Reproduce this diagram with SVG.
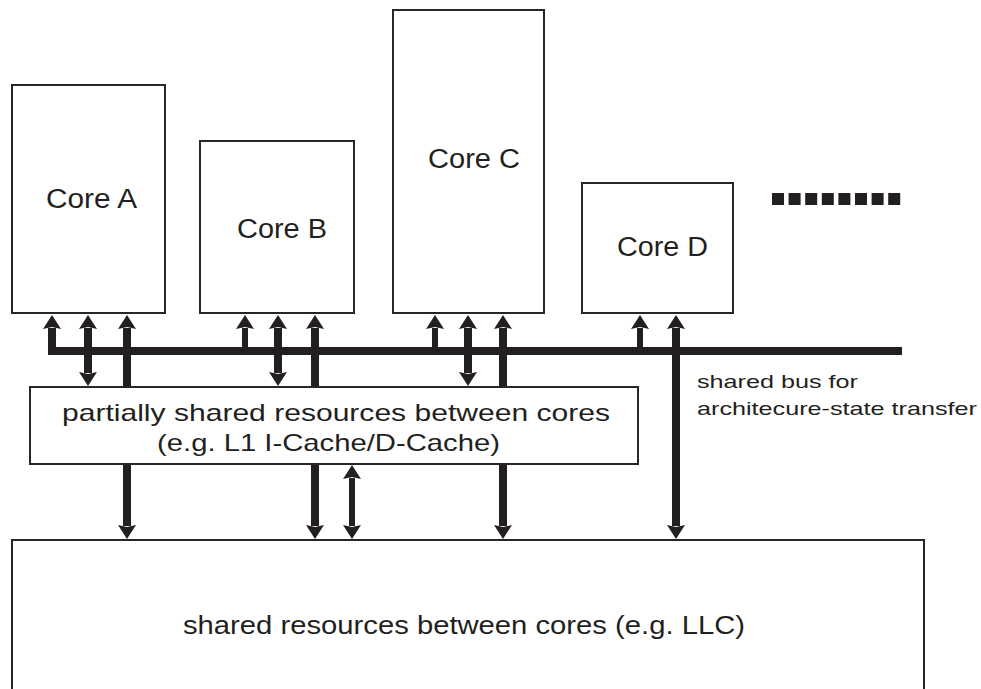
<svg xmlns="http://www.w3.org/2000/svg" width="981" height="689" viewBox="0 0 981 689">
  <style>
    .box { fill: #ffffff; stroke: #2a2526; stroke-width: 2; }
    .lbl { font-family: "Liberation Sans", Arial, sans-serif; fill: #231f20; }
    .core { font-size: 27px; }
    .mid { font-size: 24px; }
    .llc { font-size: 26px; }
    .bus { font-size: 19px; }
    .wire { fill: none; stroke: #231f20; stroke-linejoin: miter; }
    .thick { stroke-width: 8; }
    .thin { stroke-width: 6; }
    .dot { fill: #231f20; }
  </style>
  <defs>
    <marker id="head" viewBox="0 -9 14 18" markerWidth="14" markerHeight="18" refX="1" refY="0" markerUnits="userSpaceOnUse" orient="auto-start-reverse">
      <path d="M0,-9 L14,0 L0,9 L2,0 z" fill="#231f20"/>
    </marker>
  </defs>

  <rect width="981" height="689" fill="#ffffff"/>

  <!-- connectors: shared bus and data paths -->
  <g id="connectors">
    <!-- shared bus, turning up into Core A on the left -->
    <path class="wire thick" d="M902,351 H52 V328" marker-end="url(#head)"/>
    <!-- Core A -->
    <line class="wire thick" x1="88" y1="328" x2="88" y2="373" marker-start="url(#head)" marker-end="url(#head)"/>
    <line class="wire thick" x1="127" y1="328" x2="127" y2="526" marker-start="url(#head)" marker-end="url(#head)"/>
    <!-- Core B -->
    <line class="wire thin" x1="245" y1="351" x2="245" y2="328" marker-end="url(#head)"/>
    <line class="wire thick" x1="278" y1="328" x2="278" y2="373" marker-start="url(#head)" marker-end="url(#head)"/>
    <line class="wire thick" x1="315" y1="328" x2="315" y2="526" marker-start="url(#head)" marker-end="url(#head)"/>
    <!-- partial resources to LLC -->
    <line class="wire thin" x1="352" y1="478" x2="352" y2="526" marker-start="url(#head)" marker-end="url(#head)"/>
    <!-- Core C -->
    <line class="wire thin" x1="435" y1="351" x2="435" y2="328" marker-end="url(#head)"/>
    <line class="wire thick" x1="468" y1="328" x2="468" y2="373" marker-start="url(#head)" marker-end="url(#head)"/>
    <line class="wire thick" x1="503" y1="328" x2="503" y2="526" marker-start="url(#head)" marker-end="url(#head)"/>
    <!-- Core D -->
    <line class="wire thin" x1="640" y1="351" x2="640" y2="328" marker-end="url(#head)"/>
    <line class="wire thick" x1="676" y1="328" x2="676" y2="526" marker-start="url(#head)" marker-end="url(#head)"/>
  </g>

  <g id="coreA">
    <rect class="box" x="12" y="85" width="153" height="228"/>
    <text class="lbl core" x="46" y="208" textLength="91" lengthAdjust="spacingAndGlyphs">Core A</text>
  </g>
  <g id="coreB">
    <rect class="box" x="200" y="141" width="154" height="172"/>
    <text class="lbl core" x="237" y="238" textLength="90" lengthAdjust="spacingAndGlyphs">Core B</text>
  </g>
  <g id="coreC">
    <rect class="box" x="393" y="10" width="151" height="303"/>
    <text class="lbl core" x="428" y="168" textLength="92" lengthAdjust="spacingAndGlyphs">Core C</text>
  </g>
  <g id="coreD">
    <rect class="box" x="582" y="183" width="151" height="130"/>
    <text class="lbl core" x="617" y="256" textLength="91" lengthAdjust="spacingAndGlyphs">Core D</text>
  </g>

  <g id="more-cores">
    <rect class="dot" x="772" y="193" width="12" height="12"/>
    <rect class="dot" x="788.6" y="193" width="12" height="12"/>
    <rect class="dot" x="805.2" y="193" width="12" height="12"/>
    <rect class="dot" x="821.8" y="193" width="12" height="12"/>
    <rect class="dot" x="838.4" y="193" width="12" height="12"/>
    <rect class="dot" x="855" y="193" width="12" height="12"/>
    <rect class="dot" x="871.6" y="193" width="12" height="12"/>
    <rect class="dot" x="888.2" y="193" width="12" height="12"/>
  </g>

  <g id="bus-label">
    <text class="lbl bus" x="697" y="388" textLength="161" lengthAdjust="spacingAndGlyphs">shared bus for</text>
    <text class="lbl bus" x="697" y="415" textLength="280" lengthAdjust="spacingAndGlyphs">architecure-state transfer</text>
  </g>

  <g id="partial">
    <rect class="box" x="30" y="387" width="608" height="77"/>
    <text class="lbl mid" x="62" y="421" textLength="548" lengthAdjust="spacingAndGlyphs">partially shared resources between cores</text>
    <text class="lbl mid" x="157" y="451" textLength="343" lengthAdjust="spacingAndGlyphs">(e.g. L1 I-Cache/D-Cache)</text>
  </g>

  <g id="llc">
    <rect class="box" x="12" y="540" width="912" height="200"/>
    <text class="lbl llc" x="183" y="634" textLength="562" lengthAdjust="spacingAndGlyphs">shared resources between cores (e.g. LLC)</text>
  </g>
</svg>
